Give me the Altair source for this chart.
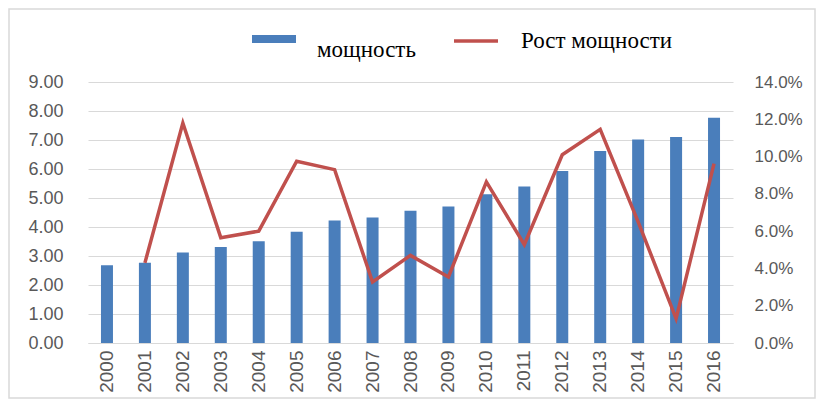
import altair as alt
import pandas as pd

years = ["2000", "2001", "2002", "2003", "2004", "2005", "2006", "2007", "2008",
         "2009", "2010", "2011", "2012", "2013", "2014", "2015", "2016"]
capacity = [2.68, 2.77, 3.12, 3.31, 3.51, 3.84, 4.22, 4.33, 4.56,
            4.71, 5.13, 5.40, 5.93, 6.62, 7.02, 7.10, 7.77]
growth = [None, 0.043, 0.118, 0.0565, 0.060, 0.0975, 0.093, 0.0327, 0.047,
          0.0354, 0.0864, 0.0528, 0.101, 0.1146, 0.065, 0.0131, 0.0962]
left_ticks = [0, 1, 2, 3, 4, 5, 6, 7, 8, 9]
right_ticks = [0, 0.02, 0.04, 0.06, 0.08, 0.10, 0.12, 0.14]

BAR_NAME = "мощность"
LINE_NAME = "Рост мощности"
BLUE = "#4a7ebb"
RED = "#c0504d"
GRAY = "#595959"
GRID = "#d9d9d9"
SANS = "Liberation Sans"
SERIF = "Liberation Serif"

df = pd.DataFrame({"year": years, "cap": capacity, "growth": growth})

W, H = 645, 261

x_enc = alt.X("year:O", sort=years,
              scale=alt.Scale(paddingInner=0, paddingOuter=0),
              axis=alt.Axis(title=None, labelAngle=-90, labelFont=SANS, labelFontSize=19,
                            labelColor=GRAY, ticks=False, domain=True, domainColor=GRID,
                            domainWidth=1, labelPadding=7, grid=False))

bars = alt.Chart(df).transform_calculate(s1=f"'{BAR_NAME}'").mark_bar(size=12).encode(
    x=x_enc,
    y=alt.Y("cap:Q", scale=alt.Scale(domain=[0, 9]),
            axis=alt.Axis(title=None, values=left_ticks, format=".2f", labelFont=SANS,
                          labelFontSize=18, labelColor=GRAY, ticks=False, domain=False,
                          labelPadding=25, grid=True, gridColor=GRID, gridWidth=1)),
    color=alt.Color("s1:N", scale=alt.Scale(domain=[BAR_NAME], range=[BLUE]),
                    legend=alt.Legend(title=None, orient="none", legendX=164, legendY=-65,
                                      padding=0, labelFont=SERIF, labelFontSize=23,
                                      labelColor="black", labelOffset=21, labelBaseline="top",
                                      symbolType="M-1,-0.18L1,-0.18L1,0.18L-1,0.18Z",
                                      symbolSize=1936, symbolStrokeWidth=0,
                                      symbolOpacity=1)),
)

line = alt.Chart(df).transform_calculate(s2=f"'{LINE_NAME}'").mark_line(strokeWidth=3.5).encode(
    x=x_enc,
    y=alt.Y("growth:Q", scale=alt.Scale(domain=[0, 0.14]),
            axis=alt.Axis(title=None, orient="right", values=right_ticks, format=".1%",
                          labelFont=SANS, labelFontSize=17, labelColor=GRAY, ticks=False,
                          domain=False, labelPadding=21, grid=False)),
    stroke=alt.Stroke("s2:N", scale=alt.Scale(domain=[LINE_NAME], range=[RED]),
                      legend=alt.Legend(title=None, orient="none", legendX=364, legendY=-65,
                                        padding=0, labelFont=SERIF, labelFontSize=23,
                                        labelColor="black", labelOffset=21,
                                        symbolType="stroke", symbolSize=1936,
                                        symbolStrokeWidth=3.5)),
)

border = alt.Chart(pd.DataFrame({"k": [0]})).mark_rect(
    fill=None, stroke=GRID, strokeWidth=1.5
).encode(x=alt.value(-79), x2=alt.value(W + 82), y=alt.value(-73), y2=alt.value(H + 55))

chart = alt.layer(bars, line, border).resolve_scale(
    y="independent", color="independent"
).properties(
    width=W, height=H,
    autosize=alt.AutoSizeParams(type="none"),
    padding={"left": 80, "top": 74, "right": 83, "bottom": 57},
).configure_view(stroke=None)

chart.save("out.html", embed_options={"renderer": "svg", "actions": False})
